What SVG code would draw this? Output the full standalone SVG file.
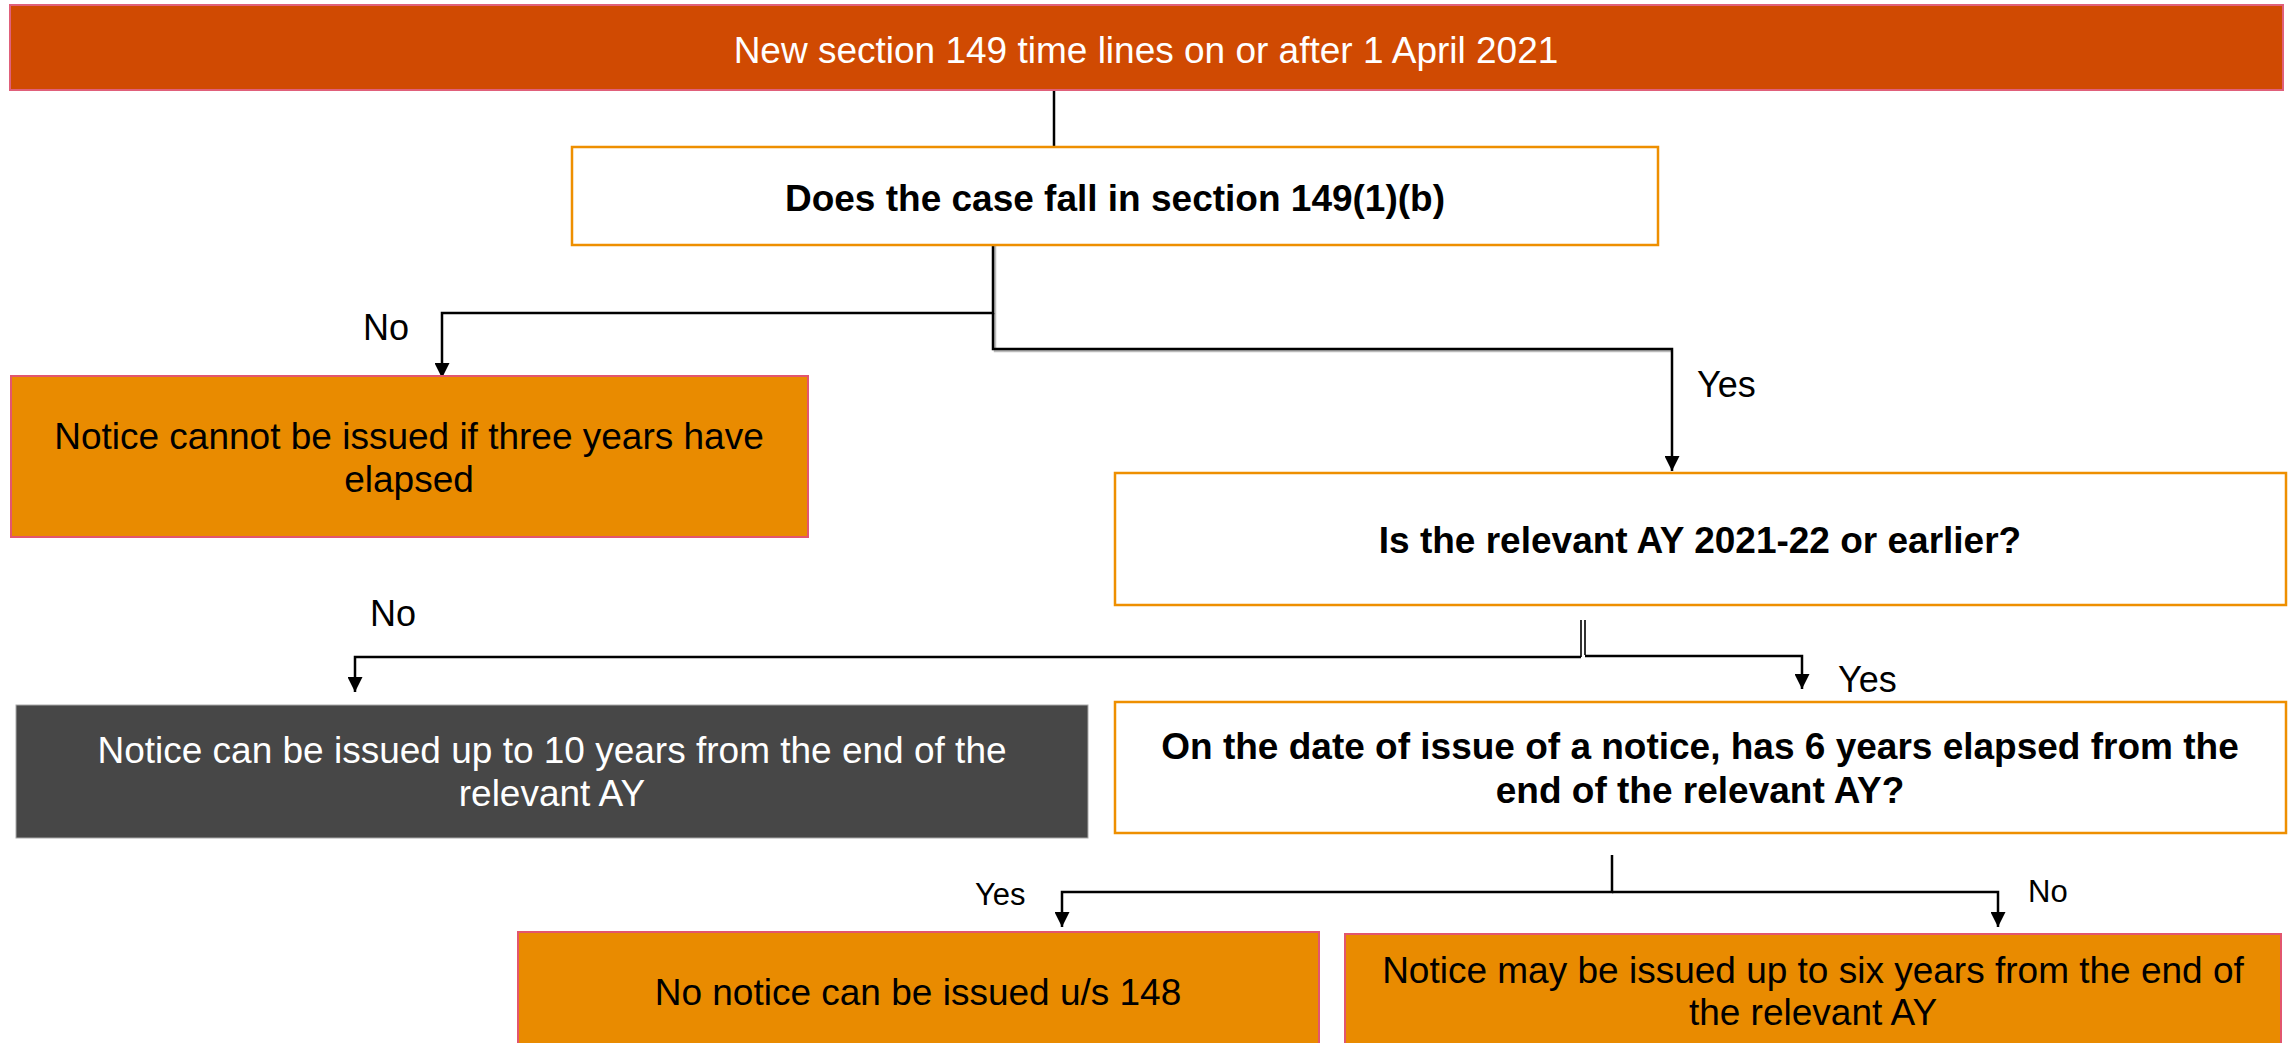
<svg xmlns="http://www.w3.org/2000/svg" width="2290" height="1043" viewBox="0 0 2290 1043">
<defs>
<style>
.t{font-family:"Liberation Sans",Arial,sans-serif;font-size:37px;text-anchor:middle}
.b{font-weight:bold;fill:#000}
.w{fill:#fff}
.k{fill:#000}
.lbl{font-family:"Liberation Sans",Arial,sans-serif;font-size:36px;fill:#000}
.lbs{font-family:"Liberation Sans",Arial,sans-serif;font-size:31px;fill:#000}
.q{fill:#fff;stroke:#EE8F00;stroke-width:2.5}
.o{fill:#E98B00;stroke:#E2566E;stroke-width:2}
.c{fill:none;stroke:#000;stroke-width:2.5}
.sh{fill:none;stroke:#bbb;stroke-width:2.5}
</style>
<marker id="ah" viewBox="0 0 10 10" refX="10" refY="5" markerWidth="15" markerHeight="15" markerUnits="userSpaceOnUse" orient="auto">
<path d="M0,0 L10,5 L0,10 z" fill="#000"/>
</marker>
</defs>
<rect width="2290" height="1043" fill="#fff"/>

<g id="connectors">
<path class="sh" d="M995 242 V351 H1672"/>
<path class="c" d="M1054 90 V147"/>
<path class="c" d="M993 240 V313 H442 V378" marker-end="url(#ah)"/>
<path class="c" d="M993 313 V349 H1672 V471" marker-end="url(#ah)"/>
<path fill="none" stroke="#000" stroke-width="1.6" d="M1581 620 V657 M1585 620 V655"/>
<path class="c" d="M1581 657 H355 V692" marker-end="url(#ah)"/>
<path class="c" d="M1585 656 H1802 V689" marker-end="url(#ah)"/>
<path class="c" d="M1612 855 V892 H1062 V927" marker-end="url(#ah)"/>
<path class="c" d="M1612 892 H1998 V927" marker-end="url(#ah)"/>
</g>

<g id="labels">
<text class="lbl" x="363" y="340">No</text>
<text class="lbl" x="1697" y="397">Yes</text>
<text class="lbl" x="370" y="626">No</text>
<text class="lbl" x="1838" y="692">Yes</text>
<text class="lbs" x="975" y="905">Yes</text>
<text class="lbs" x="2028" y="902">No</text>
</g>

<g id="n-start">
<rect x="10" y="5" width="2273" height="85" fill="#D04A02" stroke="#E0607A" stroke-width="2"/>
<text class="t w" x="1146" y="63">New section 149 time lines on or after 1 April 2021</text>
</g>

<g id="n-q1">
<rect class="q" x="572" y="147" width="1086" height="98"/>
<text class="t b" x="1115" y="211">Does the case fall in section 149(1)(b)</text>
</g>

<g id="n-three">
<rect class="o" x="11" y="376" width="797" height="161"/>
<text class="t k" x="409" y="449">Notice cannot be issued if three years have</text>
<text class="t k" x="409" y="492">elapsed</text>
</g>

<g id="n-q2">
<rect class="q" x="1115" y="473" width="1171" height="132"/>
<text class="t b" x="1700" y="553">Is the relevant AY 2021-22 or earlier?</text>
</g>

<g id="n-ten">
<rect x="16" y="705" width="1072" height="133" fill="#474747" stroke="#aaa" stroke-width="1"/>
<text class="t w" x="552" y="763">Notice can be issued up to 10 years from the end of the</text>
<text class="t w" x="552" y="806">relevant AY</text>
</g>

<g id="n-q3">
<rect class="q" x="1115" y="702" width="1171" height="131"/>
<text class="t b" x="1700" y="759">On the date of issue of a notice, has 6 years elapsed from the</text>
<text class="t b" x="1700" y="803">end of the relevant AY?</text>
</g>

<g id="n-none">
<rect class="o" x="518" y="932" width="801" height="130"/>
<text class="t k" x="918" y="1005">No notice can be issued u/s 148</text>
</g>

<g id="n-six">
<rect class="o" x="1345" y="934" width="936" height="130"/>
<text class="t k" x="1813" y="983">Notice may be issued up to six years from the end of</text>
<text class="t k" x="1813" y="1025">the relevant AY</text>
</g>
</svg>
